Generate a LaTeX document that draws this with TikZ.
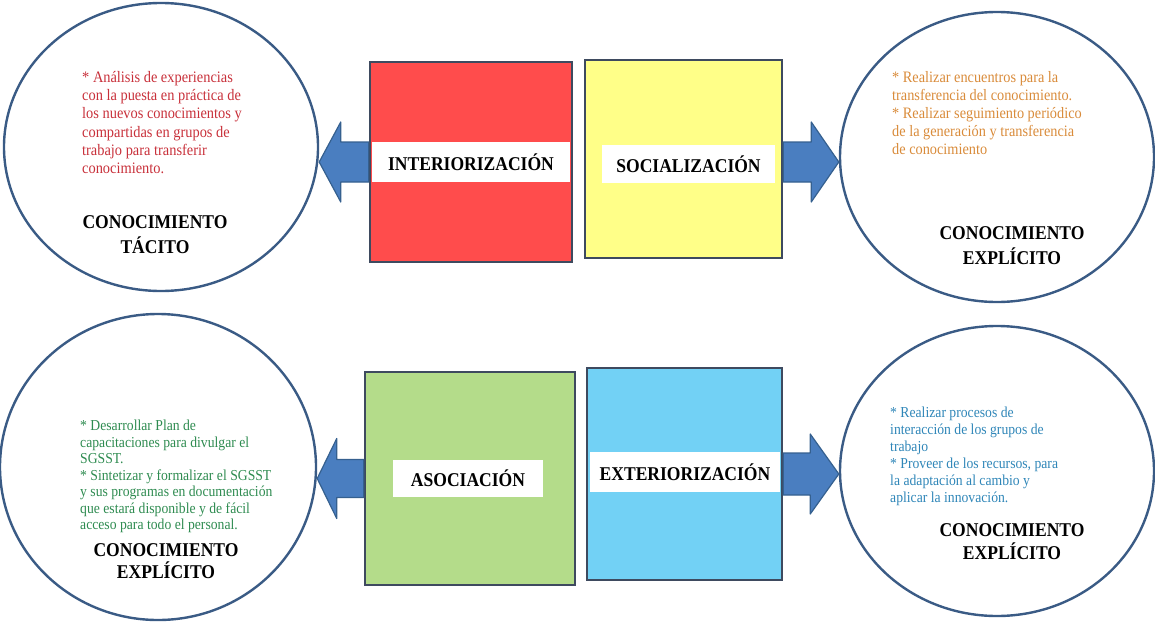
\documentclass[tikz,border=0pt]{standalone}
\usepackage{fontspec}
\setmainfont{Liberation Serif}[FakeStretch=0.9]
\usetikzlibrary{shapes.geometric}

\definecolor{borde}{HTML}{3A5B85}
\definecolor{marco}{HTML}{3E4A5F}
\definecolor{rojo}{HTML}{FF4C4C}
\definecolor{amarillo}{HTML}{FFFF88}
\definecolor{verde}{HTML}{B4DC8A}
\definecolor{celeste}{HTML}{72D1F5}
\definecolor{azulf}{HTML}{4A7EC0}
\definecolor{azulb}{HTML}{35608F}
\definecolor{rojotxt}{HTML}{C8303A}
\definecolor{naranja}{HTML}{D98B3A}
\definecolor{verdetxt}{HTML}{2E8B50}
\definecolor{azultxt}{HTML}{2F86B8}

\tikzset{
	circulo/.style={ellipse, draw=borde, line width=2.4pt, inner sep=0pt},
	caja/.style={rectangle, draw=marco, line width=2.5pt, inner sep=0pt},
	etiqueta/.style={fill=white, inner sep=0pt, font=\fontsize{19.5}{22}\selectfont\bfseries},
	flecha/.style={fill=azulf, draw=azulb, line width=1.2pt, line join=round},
	lista/.style={anchor=north west, inner sep=0pt, align=left},
	titulo/.style={align=center, inner sep=0pt, font=\fontsize{19.5}{25}\selectfont\bfseries},
}

\begin{document}
\begin{tikzpicture}[x=1pt, y=-1pt]
	\useasboundingbox(0,0)rectangle(1155,621);

	% circulos
	\node[circulo, minimum width=314pt, minimum height=288pt](tacito)at(161,147){};
	\node[circulo, minimum width=314pt, minimum height=290pt](expl1)at(997,157){};
	\node[circulo, minimum width=316pt, minimum height=306pt](expl2)at(158,467){};
	\node[circulo, minimum width=314pt, minimum height=290pt](expl3)at(997,471){};

	% cajas
	\node[caja, fill=rojo, minimum width=202pt, minimum height=200pt](inter)at(471,162){};
	\node[caja, fill=amarillo, minimum width=197pt, minimum height=198pt](soc)at(683.5,159){};
	\node[caja, fill=verde, minimum width=210pt, minimum height=213pt](asoc)at(470,478.5){};
	\node[caja, fill=celeste, minimum width=195pt, minimum height=212pt](ext)at(684.5,474){};

	\node[etiqueta, minimum width=198pt, minimum height=40pt](interl)at(inter){INTERIORIZACIÓN};
	\node[etiqueta, minimum width=173pt, minimum height=38pt](socl)at(688.5,164){SOCIALIZACIÓN};
	\node[etiqueta, minimum width=150pt, minimum height=37pt](asocl)at(468,478.5){ASOCIACIÓN};
	\node[etiqueta, minimum width=190pt, minimum height=40pt](extl)at(685,472){EXTERIORIZACIÓN};

	% flechas
	\draw[flecha]([shift={(0,-20)}]inter.west)--([shift={(-28,-20)}]inter.west)--([shift={(-28,-40)}]inter.west)
		--(tacito.east|-inter.west)--([shift={(-28,40)}]inter.west)--([shift={(-28,20)}]inter.west)--([shift={(0,20)}]inter.west)--cycle;
	\draw[flecha]([shift={(0,-20)}]soc.east|-interl)--([shift={(28,-20)}]soc.east|-interl)--([shift={(28,-40)}]soc.east|-interl)
		--(expl1.west|-interl)--([shift={(28,40)}]soc.east|-interl)--([shift={(28,20)}]soc.east|-interl)--([shift={(0,20)}]soc.east|-interl)--cycle;
	\draw[flecha]([shift={(0,-19)}]asoc.west)--([shift={(-27,-19)}]asoc.west)--([shift={(-27,-40)}]asoc.west)
		--(expl2.east|-asoc.west)--([shift={(-27,40)}]asoc.west)--([shift={(-27,19)}]asoc.west)--([shift={(0,19)}]asoc.west)--cycle;
	\draw[flecha]([shift={(0,-21)}]ext.east)--([shift={(27,-21)}]ext.east)--([shift={(27,-40)}]ext.east)
		--(expl3.west|-ext.east)--([shift={(27,40)}]ext.east)--([shift={(27,21)}]ext.east)--([shift={(0,21)}]ext.east)--cycle;

	% textos
	\node[lista, text=rojotxt, font=\fontsize{16}{18.3}\selectfont](t1)at(82,71){* Análisis de experiencias\\con la puesta en práctica de\\los nuevos conocimientos y\\compartidas en grupos de\\trabajo para transferir\\conocimiento.};
	\node[titulo](h1)at(155,234.5){CONOCIMIENTO\\TÁCITO};

	\node[lista, text=naranja, font=\fontsize{15.9}{18}\selectfont](t2)at(892,71){* Realizar encuentros para la\\transferencia del conocimiento.\\* Realizar seguimiento periódico\\de la generación y transferencia\\de conocimiento};
	\node[titulo](h2)at(1012,245.5){CONOCIMIENTO\\EXPLÍCITO};

	\node[lista, text=verdetxt, font=\fontsize{15.2}{16.5}\selectfont](t3)at(80,420){* Desarrollar Plan de\\capacitaciones para divulgar el\\SGSST.\\* Sintetizar y formalizar el SGSST\\y sus programas en documentación\\que estará disponible y de fácil\\acceso para todo el personal.};
	\node[titulo, font=\fontsize{19.5}{22}\selectfont\bfseries](h3)at(166,561){CONOCIMIENTO\\EXPLÍCITO};

	\node[lista, text=azultxt, font=\fontsize{15.2}{17}\selectfont](t4)at(890,407){* Realizar procesos de\\interacción de los grupos de\\trabajo\\* Proveer de los recursos, para\\la adaptación al cambio y\\aplicar la innovación.};
	\node[titulo, font=\fontsize{19.5}{23}\selectfont\bfseries](h4)at(1012,541.5){CONOCIMIENTO\\EXPLÍCITO};
\end{tikzpicture}
\end{document}
